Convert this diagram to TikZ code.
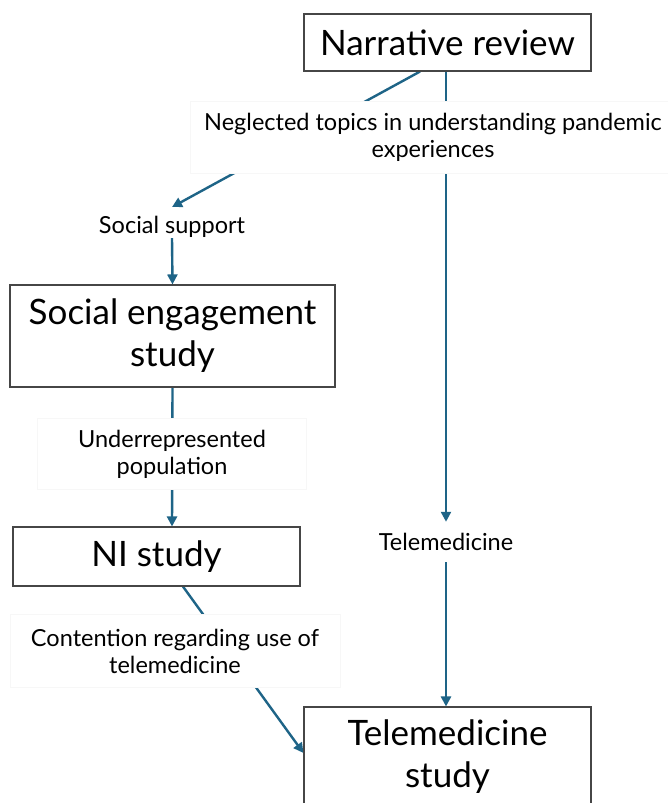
\documentclass[tikz,border=0pt]{standalone}
\usepackage{fontspec}
\setmainfont{Lato}
\usetikzlibrary{arrows.meta}
\pgfdeclarelayer{bg}
\pgfsetlayers{bg,main}
\definecolor{arrowblue}{RGB}{30,100,135}
\definecolor{boxline}{RGB}{70,70,70}
\tikzset{
  studybox/.style={draw=boxline, line width=1.1pt, fill=white, inner sep=0pt, align=center, font=\fontsize{35}{42}\selectfont},
  lbl/.style={fill=white, draw=black!3, line width=0.5pt, inner sep=0pt, align=center, font=\fontsize{23.5}{27}\selectfont},
  conn/.style={draw=arrowblue, line width=2.4pt, -{Triangle[length=10pt,width=10pt]}}
}
\begin{document}
\begin{tikzpicture}[x=1pt,y=-1pt]
\useasboundingbox (0,0) rectangle (668,803);
\begin{pgfonlayer}{bg}
\fill[white] (0,0) rectangle (668,803);
\end{pgfonlayer}
\node[studybox, minimum width=287pt, minimum height=57pt] (nr) at (447.5,42.5) {Narrative review};
\node[studybox, minimum width=325pt, minimum height=102pt] (se) at (172.5,336) {Social engagement\\study};
\node[studybox, minimum width=287pt, minimum height=59pt] (ni) at (156.5,556.5) {NI study};
\node[studybox, minimum width=287pt, minimum height=100pt] (ts) at (447.5,757) {Telemedicine\\study};
\node[lbl, minimum width=485pt, minimum height=72pt] (ng) at (433,137) {Neglected topics in understanding pandemic\\experiences};
\node[lbl, draw=none, minimum width=150pt, minimum height=20pt] (ss) at (172,227) {Social support};
\node[lbl, minimum width=269pt, minimum height=71pt] (ur) at (172,454) {Underrepresented\\population};
\node[lbl, draw=none, minimum width=160pt, minimum height=40pt] (tm) at (446,542) {Telemedicine};
\node[lbl, minimum width=330pt, minimum height=73pt] (ct) at (175,651) {Contention regarding use of\\telemedicine};
\begin{pgfonlayer}{bg}
\draw[conn] ([xshift=-27.5pt]nr.south) -- ([yshift=9pt]ss.north);
\draw[conn] ([xshift=-1.5pt]nr.south) -- (tm.north);
\draw[conn] (tm.south) -- ([xshift=-1.5pt]ts.north);
\draw[conn] (ss.south) -- (se.north);
\draw[conn] (se.south) -- ([xshift=15.5pt]ni.north);
\draw[conn] ([xshift=26.5pt]ni.south) -- ([yshift=4pt]ts.west);
\end{pgfonlayer}
\end{tikzpicture}
\end{document}
